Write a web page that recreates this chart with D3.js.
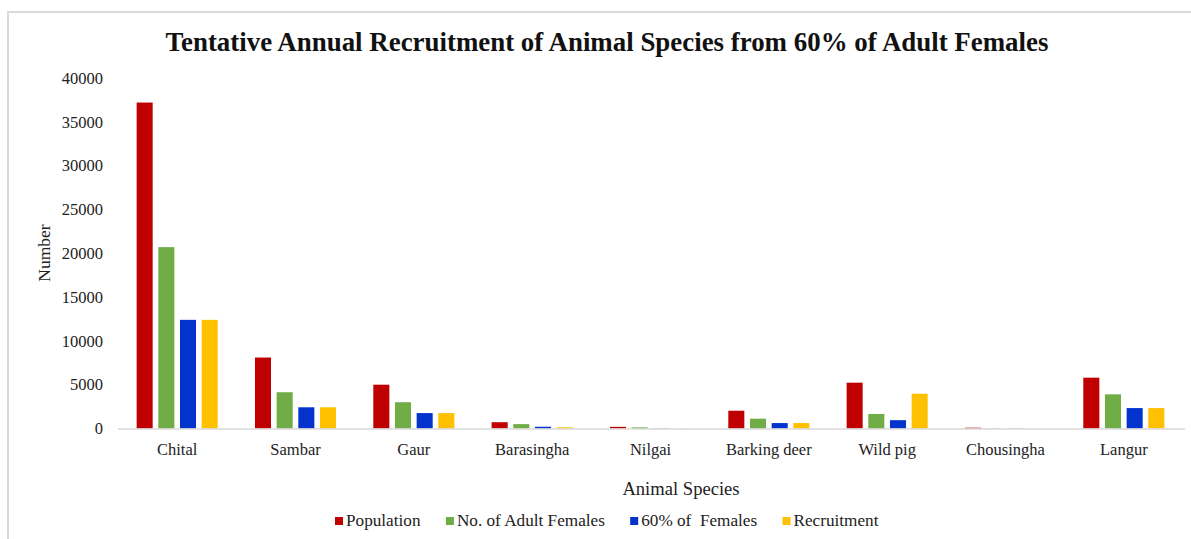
<!DOCTYPE html>
<html>
<head>
<meta charset="utf-8">
<script src="https://cdn.jsdelivr.net/npm/d3@7"></script>
<style>
  html, body { margin: 0; padding: 0; background: #ffffff; }
  svg { display: block; }
  text { font-family: "Liberation Serif", "Times New Roman", serif; fill: #222; }
</style>
</head>
<body>
<svg id="chart" width="1191" height="539"></svg>
<script>
// Species and recruitment figures
const species = ["Chital", "Sambar", "Gaur", "Barasingha", "Nilgai", "Barking deer", "Wild pig", "Chousingha", "Langur"];
const seriesNames = ["Population", "No. of Adult Females", "60% of  Females", "Recruitment"];
const population    = [37200, 8100, 5000, 720, 190, 2030, 5230, 90, 5800];
const adultFemales  = [20700, 4140, 3000, 500, 130, 1120, 1660, 30, 3900];
const sixtyPercent  = [12400, 2420, 1760, 200, 30, 620, 950, 20, 2330];
const recruitment   = [12400, 2420, 1760, 140, 25, 620, 3970, 15, 2330];
const yTicks = [0, 5000, 10000, 15000, 20000, 25000, 30000, 35000, 40000];
const colors = ["#c00000", "#70ad47", "#0432cc", "#ffc000"];

const seriesValues = [population, adultFemales, sixtyPercent, recruitment];
const rows = species.map((s, i) => ({
  species: s,
  values: seriesNames.map((n, k) => ({ key: n, value: seriesValues[k][i] }))
}));

const svg = d3.select("#chart");

// chart frame
svg.append("rect")
  .attr("x", 8).attr("y", 12).attr("width", 1200).attr("height", 560)
  .attr("fill", "#ffffff").attr("stroke", "#d9d9d9").attr("stroke-width", 2);

const x0 = d3.scaleBand().domain(species).range([118, 1183])
  .paddingInner(0.315).paddingOuter(0.1575);
const x1 = d3.scaleBand().domain(seriesNames).range([0, x0.bandwidth()])
  .paddingInner(0.26);
const y = d3.scaleLinear().domain([0, 40000]).range([428.5, 78]);
const color = d3.scaleOrdinal().domain(seriesNames).range(colors);

// title
svg.append("text")
  .attr("x", 607).attr("y", 51)
  .attr("text-anchor", "middle")
  .style("font-size", "26.9px").style("font-weight", "bold").style("fill", "#111")
  .text("Tentative Annual Recruitment of Animal Species from 60% of Adult Females");

// y axis (labels only)
const yAxis = d3.axisLeft(y).tickValues(yTicks).tickSize(0).tickPadding(0).tickFormat(d3.format("d"));
const yg = svg.append("g").attr("transform", "translate(103,0)").call(yAxis);
yg.select(".domain").remove();
yg.selectAll("text").style("font-size", "16.5px").style("font-family", "Liberation Serif, serif").attr("fill", "#222");

// bars
const groups = svg.append("g").selectAll("g").data(rows).join("g")
  .attr("transform", d => `translate(${x0(d.species)},0)`);
groups.selectAll("rect").data(d => d.values).join("rect")
  .attr("x", d => x1(d.key))
  .attr("width", x1.bandwidth())
  .attr("y", d => y(d.value))
  .attr("height", d => y(0) - y(d.value))
  .attr("fill", d => color(d.key));

// x axis
const xAxis = d3.axisBottom(x0).tickSize(0).tickPadding(0);
const xg = svg.append("g").attr("transform", `translate(0,${y(0)})`).call(xAxis);
xg.select(".domain").attr("stroke", "#d9d9d9").attr("stroke-width", 1.5)
  .attr("d", `M118,0.5H1185`);
xg.selectAll("text").attr("dy", null).attr("y", 26)
  .style("font-size", "16.5px").style("font-family", "Liberation Serif, serif").attr("fill", "#222");

// axis titles
svg.append("text")
  .attr("x", 681).attr("y", 495).attr("text-anchor", "middle")
  .style("font-size", "18.6px")
  .text("Animal Species");
svg.append("text")
  .attr("transform", "translate(50,253) rotate(-90)")
  .attr("text-anchor", "middle")
  .style("font-size", "17.5px")
  .text("Number");

// legend
const legend = svg.append("g");
const items = legend.selectAll("g").data(seriesNames).join("g");
items.append("rect").attr("width", 8).attr("height", 8).attr("y", -9)
  .attr("fill", d => color(d));
items.append("text").attr("x", 11).attr("y", 0)
  .style("font-size", "17.2px").style("white-space", "pre")
  .attr("xml:space", "preserve")
  .text(d => d);
let cx = 0;
items.each(function() {
  const w = this.getBBox().width;
  d3.select(this).attr("transform", `translate(${cx},0)`);
  cx += w + 25;
});
const legendWidth = cx - 25;
legend.attr("transform", `translate(${335},526)`);
</script>
</body>
</html>
